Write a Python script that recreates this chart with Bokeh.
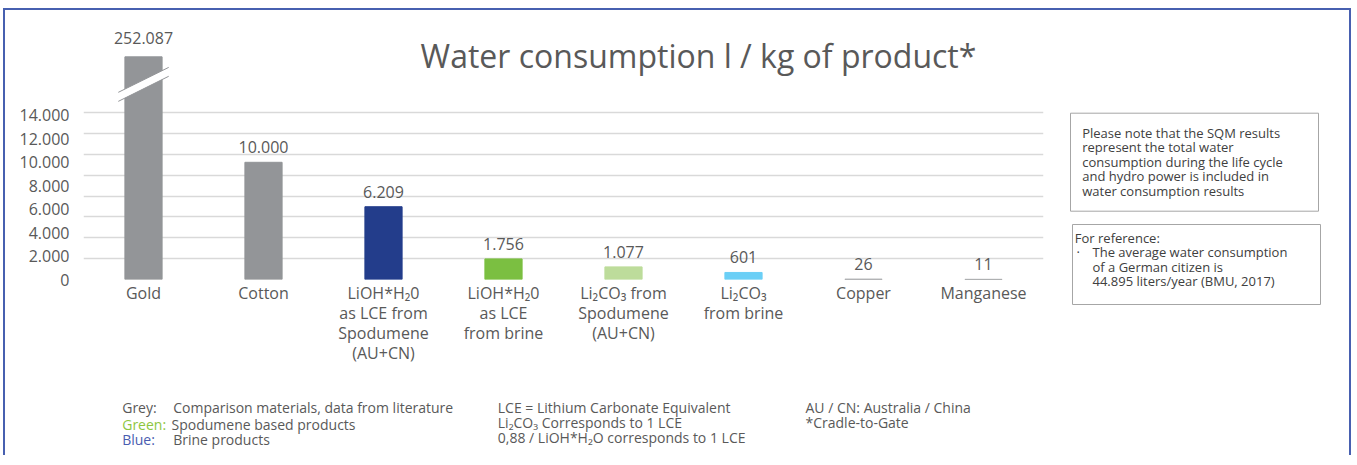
from bokeh.plotting import figure
from bokeh.layouts import column, row
from bokeh.models import FixedTicker, Range1d, Label, ColumnDataSource
from bokeh.embed import file_html
from bokeh.resources import INLINE
from bokeh.core.properties import value

# ---------------- data ----------------
categories = [
    "Gold",
    "Cotton",
    "LiOH*H\u20820\nas LCE from\nSpodumene\n(AU+CN)",
    "LiOH*H\u20820\nas LCE\nfrom brine",
    "Li\u2082CO\u2083 from\nSpodumene\n(AU+CN)",
    "Li\u2082CO\u2083\nfrom brine",
    "Copper",
    "Manganese",
]
water_l_per_kg = [252087, 10000, 6209, 1756, 1077, 601, 26, 11]
bar_colors = ["#939598", "#939598", "#233d8b", "#7bbf41", "#bddc9b", "#6bcff6", "#939598", "#939598"]
y_tick_values = [0, 2000, 4000, 6000, 8000, 10000, 12000, 14000]
y_tick_labels = ["0", "2.000", "4.000", "6.000", "8.000", "10.000", "12.000", "14.000"]
display_cap = 19000  # off-scale bars are cut here (axis break)

title_text = "Water consumption l / kg of product*"
note_1 = ["Please note that the SQM results", "represent the total water",
          "consumption during the life cycle", "and hydro power is included in",
          "water consumption results"]
note_2_head = "For reference:"
note_2_lines = ["The average water consumption", "of a German citizen is",
                "44.895 liters/year (BMU, 2017)"]
legend_keys = ["Grey:", "Green:", "Blue:"]
legend_key_colors = ["#595959", "#8dc63f", "#4a5cb0"]
legend_texts = ["Comparison materials, data from literature", "Spodumene based products", "Brine products"]
mid_notes = ["LCE = Lithium Carbonate Equivalent", "Li\u2082CO\u2083 Corresponds to 1 LCE",
             "0,88 / LiOH*H\u2082O corresponds to 1 LCE"]
right_notes = ["AU / CN: Australia / China", "*Cradle-to-Gate"]

# ---------------- style ----------------
FONT = "Open Sans"
TXT = "#595959"
NOTE = "#404040"
BORDER = "#4760b0"

# ---------------- main chart ----------------
xs = list(range(len(categories)))
shown = [min(v, display_cap) for v in water_l_per_kg]
labels = [f"{v:,}".replace(",", ".") for v in water_l_per_kg]
offs = [-13 if v > display_cap else -9 for v in water_l_per_kg]
src = ColumnDataSource(dict(x=xs, top=shown, color=bar_colors, label=labels, off=offs))

p = figure(frame_width=960, frame_height=259,
           min_border_left=78, min_border_right=17, min_border_top=10, min_border_bottom=101,
           x_range=Range1d(-0.5, len(categories) - 0.5), y_range=Range1d(0, 22100),
           output_backend="svg", toolbar_location=None)
p.outline_line_color = None

for ax in (p.xaxis, p.yaxis):
    ax.axis_line_color = None
    ax.major_tick_line_color = None
    ax.minor_tick_line_color = None
    ax.major_tick_out = 0
    ax.major_tick_in = 0
    ax.minor_tick_out = 0
    ax.major_label_text_font = FONT
    ax.major_label_text_font_size = "16px"
    ax.major_label_text_color = TXT

p.yaxis.ticker = FixedTicker(ticks=y_tick_values)
p.yaxis.major_label_overrides = dict(zip(y_tick_values, y_tick_labels))
p.yaxis.major_label_standoff = 14

p.xaxis.ticker = FixedTicker(ticks=xs)
p.xaxis.major_label_overrides = dict(zip(xs, categories))
p.xaxis.major_label_standoff = 2
p.xaxis.major_label_text_line_height = 0.92

p.xgrid.grid_line_color = None
p.ygrid.ticker = FixedTicker(ticks=[i * 1780 for i in range(9)])
p.ygrid.grid_line_color = "#d9d9d9"
p.ygrid.grid_line_width = 1.5

p.vbar(x="x", top="top", width=0.31, color="color", source=src)

# axis-break mark on the capped bar
for i, v in enumerate(water_l_per_kg):
    if v > display_cap:
        lo = [display_cap - 3800, display_cap - 1660]
        hi = [display_cap - 3030, display_cap - 900]
        p.patch([i - 0.21, i + 0.21, i + 0.21, i - 0.21], [lo[0], lo[1], hi[1], hi[0]],
                fill_color="white", line_color=None)
        p.multi_line([[i - 0.21, i + 0.21], [i - 0.21, i + 0.21]], [lo, hi],
                     line_color="#939598", line_width=1)

p.text(x="x", y="top", text="label", source=src, y_offset="off", text_align="center",
       text_baseline="bottom", text_font=value(FONT), text_font_size="16px", text_color=TXT)

p.add_layout(Label(x=615, y=224, x_units="screen", y_units="screen", text=title_text,
                   text_font=FONT, text_font_size="32px", text_color=TXT,
                   text_align="center", text_baseline="middle"))


def blank(w, h, top=0):
    f = figure(frame_width=w, frame_height=h - top, min_border=0, min_border_top=top,
               x_range=Range1d(0, w), y_range=Range1d(h, top),
               x_axis_location=None, y_axis_location=None,
               output_backend="svg", toolbar_location=None)
    f.xgrid.grid_line_color = None
    f.ygrid.grid_line_color = None
    f.outline_line_color = None
    return f


def txt(f, x, y, t, size, color):
    f.text(x=[x], y=[y], text=[t], text_font=value(FONT), text_font_size=size,
           text_color=color, text_align="left", text_baseline="middle")


# ---------------- right-hand notes ----------------
r = blank(289, 370, top=10)
r.quad(left=[10, 12], right=[258, 260], top=[102.7, 214], bottom=[200.7, 294],
       fill_color=None, line_color="#a6a6a6", line_width=1)
for k, t in enumerate(note_1):
    txt(r, 21.7, 122 + 14.5 * k, t, "13px", NOTE)
txt(r, 14.3, 227, note_2_head, "13px", NOTE)
txt(r, 16, 241.7, "\u00b7", "13px", NOTE)
for k, t in enumerate(note_2_lines):
    txt(r, 32, 241.7 + 14.3 * k, t, "13px", NOTE)

# ---------------- footer ----------------
b = blank(1344, 75)
fy = [26.7, 44, 59.3]
fx = [167.7, 166, 167.7]
for k in range(3):
    txt(b, 116.7, fy[k], legend_keys[k], "14px", legend_key_colors[k])
    txt(b, fx[k], fy[k], legend_texts[k], "14px", TXT)
for k, t in enumerate(mid_notes):
    txt(b, 492.3, 26.7 + 15.2 * k, t, "14px", TXT)
for k, t in enumerate(right_notes):
    txt(b, 800, 26.7 + 15.2 * k, t, "14px", TXT)

page = column(row(p, r), b)
page.styles = {"margin-left": "3px", "margin-top": "8px",
               "border-left": f"2px solid {BORDER}", "border-top": f"2px solid {BORDER}",
               "border-right": f"2px solid {BORDER}"}

open("out.html", "w").write(file_html(page, INLINE))
